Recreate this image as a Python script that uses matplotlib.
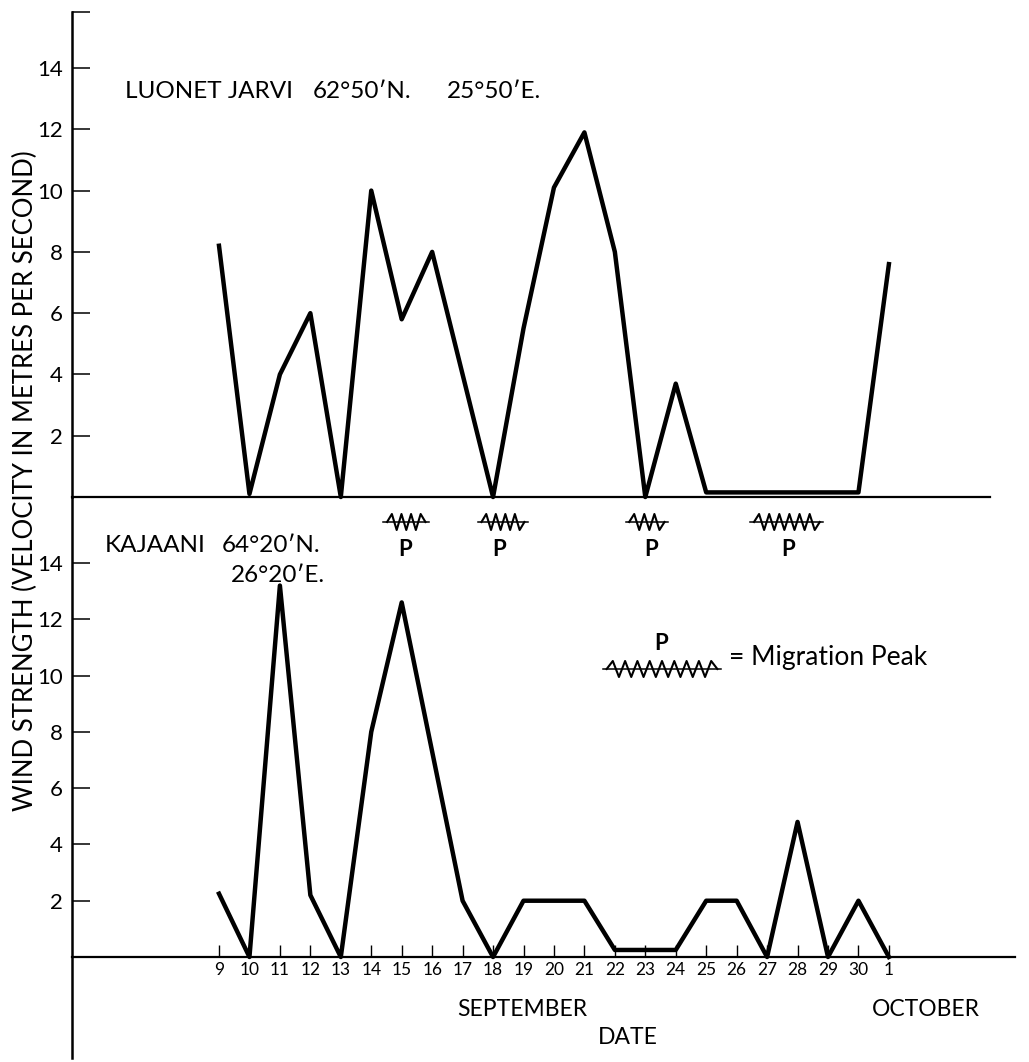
import numpy as np
import matplotlib
matplotlib.use("Agg")
import matplotlib.pyplot as plt

plt.rcParams['font.family'] = ['Lato', 'DejaVu Sans']

# ---------------- data ----------------
days = list(range(9, 32))  # 9..30 September, 31 = 1 October
day_labels = [str(d) for d in range(9, 31)] + ['1']

luonet = [8.2, 0.1, 4.0, 6.0, 0.0, 10.0, 5.8, 8.0, 4.0, 0.0, 5.5, 10.1,
          11.9, 8.0, 0.0, 3.7, 0.15, 0.15, 0.15, 0.15, 0.15, 0.15, 7.6]
kajaani = [2.25, 0.0, 13.2, 2.2, 0.0, 8.0, 12.6, 7.3, 2.0, 0.0, 2.0, 2.0,
           2.0, 0.25, 0.25, 0.25, 2.0, 2.0, 0.0, 4.8, 0.0, 2.0, 0.0]

peak_start = [14.4, 17.5, 22.35, 26.45]
peak_end = [15.9, 19.15, 23.75, 28.85]
peak_label = [15.1, 18.2, 23.2, 27.7]

yticks = [2, 4, 6, 8, 10, 12, 14]

# ---------------- layout helpers ----------------
W, H = 1029, 1062
fig = plt.figure(figsize=(W / 100, H / 100), dpi=100)

def fx(px):
    return px / W

def fy(py):
    return 1 - py / H

PX_DAY = 30.45
X9 = 219.0
AX_LEFT = 72.0

def xlim_for(right_px):
    return (9 - (X9 - AX_LEFT) / PX_DAY, 9 + (right_px - X9) / PX_DAY)

# top panel
TOP_Y0, TOP_YTOP, TOP_UNIT = 497.0, 12.0, 30.64
ax1 = fig.add_axes([fx(AX_LEFT), fy(TOP_Y0), fx(990) - fx(AX_LEFT),
                    (TOP_Y0 - TOP_YTOP) / H])
ax1.set_xlim(*xlim_for(990))
ytop1 = (TOP_Y0 - TOP_YTOP) / TOP_UNIT
ax1.set_ylim(0, ytop1)

# bottom panel
BOT_Y0, BOT_UNIT = 957.0, 28.14
BOT_TOP, BOT_BOTTOM = 497.0, 1058.0
ax2 = fig.add_axes([fx(AX_LEFT), fy(BOT_BOTTOM), fx(1015) - fx(AX_LEFT),
                    (BOT_BOTTOM - BOT_TOP) / H])
ax2.set_xlim(*xlim_for(1015))
ax2.set_ylim(-(BOT_BOTTOM - BOT_Y0) / BOT_UNIT, (BOT_Y0 - BOT_TOP) / BOT_UNIT)

for ax in (ax1, ax2):
    ax.patch.set_visible(False)
    ax.spines['top'].set_visible(False)
    ax.spines['right'].set_visible(False)
    ax.spines['left'].set_linewidth(1.8)
    ax.spines['bottom'].set_linewidth(1.6)

# top axis ticks
ax1.set_yticks(yticks + [ytop1])
ax1.set_yticklabels([str(t) for t in yticks] + [''])
ax1.set_xticks([])
ax1.tick_params(axis='y', direction='in', length=13, width=1.1, pad=6.5,
                labelsize=16)

# bottom axis ticks
ax2.spines['bottom'].set_position(('data', 0))
ax2.set_yticks(yticks)
ax2.set_yticklabels([str(t) for t in yticks])
ax2.tick_params(axis='y', direction='in', length=13, width=1.1, pad=6.5,
                labelsize=16)
ax2.set_xticks(days)
ax2.set_xticklabels(day_labels)
ax2.tick_params(axis='x', direction='in', length=9, width=1.0, pad=3.5,
                labelsize=12.5)

# data lines
ax1.plot(days, luonet, color='black', lw=3.2, solid_joinstyle='round',
         clip_on=False)
ax2.plot(days, kajaani, color='black', lw=3.2, solid_joinstyle='round',
         clip_on=False)

# migration peak symbols
def zigzag(ax, x0, x1, y, amp, period=0.33):
    ax.plot([x0, x1], [y, y], color='black', lw=1.1, clip_on=False)
    a, b = x0 + 0.12, x1 - 0.12
    n = max(2, int(round((b - a) / (period / 2))))
    xs = np.linspace(a, b, n + 1)
    ys = [y] + [y + (amp if i % 2 == 0 else -amp) for i in range(n - 1)] + [y]
    ax.plot(xs, ys, color='black', lw=1.5, clip_on=False)

zz_y = -(522 - TOP_Y0) / TOP_UNIT
p_y = -(549 - TOP_Y0) / TOP_UNIT
amp1 = 8 / TOP_UNIT
for s, e, lx in zip(peak_start, peak_end, peak_label):
    zigzag(ax1, s, e, zz_y, amp1)
    ax1.text(lx, p_y, 'P', ha='center', va='center', fontsize=16,
             fontweight='bold', clip_on=False)

# legend (in bottom panel)
leg_y = (BOT_Y0 - 669) / BOT_UNIT
zigzag(ax2, 9 + (603 - X9) / PX_DAY, 9 + (721 - X9) / PX_DAY, leg_y,
       8 / BOT_UNIT, period=0.40)
ax2.text(9 + (661 - X9) / PX_DAY, (BOT_Y0 - 644) / BOT_UNIT, 'P',
         ha='center', va='center', fontsize=16, fontweight='bold')
ax2.text(9 + (729 - X9) / PX_DAY, (BOT_Y0 - 657) / BOT_UNIT,
         '= Migration Peak', ha='left', va='center', fontsize=19)

# station labels
fs_st = 17.5
fig.text(fx(125), fy(92), 'LUONET JARVI', ha='left', va='center', fontsize=fs_st)
fig.text(fx(313), fy(92), '62°50′N.', ha='left', va='center', fontsize=fs_st)
fig.text(fx(447), fy(92), '25°50′E.', ha='left', va='center', fontsize=fs_st)
fig.text(fx(105), fy(545), 'KAJAANI', ha='left', va='center', fontsize=fs_st)
fig.text(fx(222), fy(545), '64°20′N.', ha='left', va='center', fontsize=fs_st)
fig.text(fx(231), fy(576), '26°20′E.', ha='left', va='center', fontsize=fs_st)

# axis labels
fig.text(fx(25), fy(481), 'WIND STRENGTH (VELOCITY IN METRES PER SECOND)',
         rotation=90, ha='center', va='center', fontsize=18.5)
fig.text(fx(522), fy(1009), 'SEPTEMBER', ha='center', va='center', fontsize=16.5)
fig.text(fx(926), fy(1009), 'OCTOBER', ha='center', va='center', fontsize=16.5)
fig.text(fx(628), fy(1038), 'DATE', ha='center', va='center', fontsize=16.5)

fig.savefig('out.png', dpi=100)
